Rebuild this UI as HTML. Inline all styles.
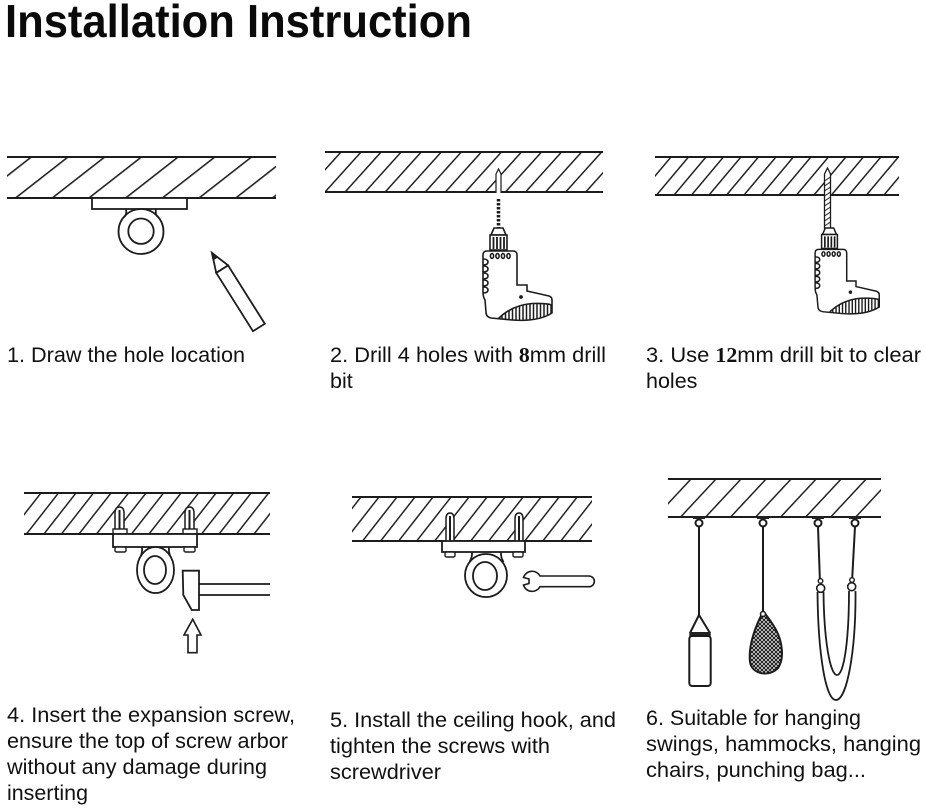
<!DOCTYPE html>
<html><head><meta charset="utf-8"><style>
html,body{margin:0;padding:0;background:#fff;}
svg{display:block;}
</style></head><body>
<svg width="926" height="808" viewBox="0 0 926 808" xmlns="http://www.w3.org/2000/svg">
<defs>
<pattern id="p1" patternUnits="userSpaceOnUse" width="22.6" height="10" patternTransform="translate(30,157) rotate(52)"><rect x="0" y="0" width="1.6" height="10" fill="#222"/></pattern>
<pattern id="p2" patternUnits="userSpaceOnUse" width="14.9" height="10" patternTransform="translate(340,152) rotate(42)"><rect x="0" y="0" width="1.5" height="10" fill="#222"/></pattern>
<pattern id="p3" patternUnits="userSpaceOnUse" width="13.4" height="10" patternTransform="translate(670,157) rotate(40)"><rect x="0" y="0" width="1.5" height="10" fill="#222"/></pattern>
<pattern id="p4" patternUnits="userSpaceOnUse" width="13.8" height="10" patternTransform="translate(40,493) rotate(38)"><rect x="0" y="0" width="1.5" height="10" fill="#222"/></pattern>
<pattern id="p5" patternUnits="userSpaceOnUse" width="14.2" height="10" patternTransform="translate(360,497) rotate(38)"><rect x="0" y="0" width="1.5" height="10" fill="#222"/></pattern>
<pattern id="p6" patternUnits="userSpaceOnUse" width="18.3" height="10" patternTransform="translate(690,479) rotate(43)"><rect x="0" y="0" width="1.5" height="10" fill="#222"/></pattern>
<pattern id="net" patternUnits="userSpaceOnUse" width="4" height="4"><path d="M0,0 L4,4 M4,0 L0,4" stroke="#222" stroke-width="1.2"/></pattern>
<clipPath id="dh"><path d="M498,319 Q512,305 532,303.5 Q546,303 552,305 L552,313 Q538,322 512,320 Z"/></clipPath>
<g id="drill" stroke="#1c1c1c" stroke-width="1.6" fill="#fff">
  <path d="M494,228 L503,228 L506,235 L491,235 Z"/>
  <rect x="490" y="235" width="17" height="15"/>
  <path d="M493.5,237 V249 M497,237 V249 M500.5,237 V249 M504,237 V249" stroke-width="1.8"/>
  <path d="M483,255 Q483,251 487,251 L513,251 Q517,251 517,255 L517,285 L527,285 L527,291 L549,296 Q552,297 552,300 L552,313 Q538,322 512,320 L491,318 Q486,317 486,312 L485,300 Q483,297 483,292 Z"/>
  <path fill="none" d="M483,259 Q488,259 488,262 Q488,265 483,265 M483,266 Q488,266 488,269 Q488,272 483,272 M483,273 Q488,273 488,276 Q488,279 483,279 M483,280 Q488,280 488,283 Q488,286 483,286 M483,287 Q488,287 488,290 Q488,293 483,293"/>
  <ellipse cx="492" cy="256" rx="1.6" ry="2.4"/><ellipse cx="497.5" cy="256" rx="1.6" ry="2.4"/><ellipse cx="503" cy="256" rx="1.6" ry="2.4"/><ellipse cx="508.5" cy="256" rx="1.6" ry="2.4"/>
  <path fill="none" d="M498,319 Q512,305 532,303.5 Q546,303 552,305"/>
  <g clip-path="url(#dh)" stroke-width="1.5"><path d="M502,300 V323 M505.5,300 V323 M509,300 V323 M512.5,300 V323 M516,300 V323 M519.5,300 V323 M523,300 V323 M526.5,300 V323 M530,300 V323 M533.5,300 V323 M537,300 V323 M540.5,300 V323 M544,300 V323 M547.5,300 V323 M551,300 V323"/></g>
  <circle cx="521" cy="297" r="1.1" fill="#1c1c1c"/>
</g>
</defs>
<rect width="926" height="808" fill="#fff"/>

<text x="5" y="37" font-family="'Liberation Sans', Arial, sans-serif" font-weight="bold" font-size="46" fill="#0a0a0a" textLength="467" lengthAdjust="spacingAndGlyphs">Installation Instruction</text>

<g stroke="#1c1c1c" stroke-width="1.8" fill="none">
<!-- Panel 1 -->
<rect x="7" y="157" width="269" height="41" fill="url(#p1)" stroke="none"/>
<path d="M7,157 H276 M7,198 H276" stroke-width="2"/>
<rect x="92" y="198" width="95" height="11" fill="#fff"/>
<circle cx="141" cy="231.5" r="22.5" fill="#fff"/>
<path d="M126,209 Q127,215 124,217 M156,209 Q155,215 158,217"/>
<circle cx="141" cy="231.2" r="12.7" fill="#fff"/>
<g transform="translate(212,253) rotate(57.8)">
  <rect x="19" y="-7" width="69" height="14" fill="#fff"/>
  <polygon points="0,0 19,-7 19,7" fill="#fff"/>
  <polygon points="0,0 6,-2.2 6,2.2" fill="#222"/>
</g>

<!-- Panel 2 -->
<rect x="325" y="152" width="278" height="40" fill="url(#p2)" stroke="none"/>
<path d="M325,152 H603 M325,192 H603" stroke-width="2"/>
<path d="M496,193 L496,174 L498.5,169 L501,174 L501,193" fill="#fff" stroke-width="1.2"/>
<line x1="498.5" y1="199" x2="498.5" y2="229" stroke-width="3.5" stroke-dasharray="2.5 1.5"/>
<use href="#drill"/>

<!-- Panel 3 -->
<rect x="655" y="157" width="244" height="38" fill="url(#p3)" stroke="none"/>
<path d="M655,157 H899 M655,195 H899" stroke-width="2"/>
<path d="M824.5,229 L824.5,174 L827.5,168 L830.5,174 L830.5,229" fill="#fff" stroke-width="1.3"/>
<path d="M824.5,181 L830.5,177 M824.5,186 L830.5,182 M824.5,191 L830.5,187 M824.5,196 L830.5,192 M824.5,201 L830.5,197 M824.5,206 L830.5,202 M824.5,211 L830.5,207 M824.5,216 L830.5,212 M824.5,221 L830.5,217 M824.5,226 L830.5,222" stroke-width="1"/>
<use href="#drill" transform="translate(829.5,228) scale(0.93) translate(-498.5,-228)"/>

<!-- Panel 4 -->
<rect x="24" y="493" width="246" height="41" fill="url(#p4)" stroke="none"/>
<path d="M24,493 H270 M24,534 H270" stroke-width="2"/>
<path d="M115,534 L115,513 Q115,507 119.5,507 Q124,507 124,513 L124,534" fill="#fff" stroke-width="1.5"/>
<path d="M185,534 L185,513 Q185,507 189.5,507 Q194,507 194,513 L194,534" fill="#fff" stroke-width="1.5"/>
<path d="M119.5,510 V534 M189.5,510 V534" stroke-width="2"/>
<rect x="113" y="529" width="14" height="5" fill="#fff" stroke-width="1.4"/>
<rect x="183" y="529" width="14" height="5" fill="#fff" stroke-width="1.4"/>
<rect x="113" y="534" width="84" height="13" fill="#fff"/>
<rect x="115" y="547" width="11" height="5" rx="1.5" fill="#fff" stroke-width="1.4"/>
<rect x="184" y="547" width="11" height="5" rx="1.5" fill="#fff" stroke-width="1.4"/>
<ellipse cx="155.5" cy="570" rx="18.5" ry="23" fill="#fff"/>
<path d="M142,547 Q142.5,552 140.8,556 M169,547 Q168.5,552 170.2,556"/>
<ellipse cx="155" cy="570" rx="11" ry="14" fill="#fff"/>
<path d="M182.7,570.7 L199,570.7 L199,610 L191.7,610 L183.3,595 Z" fill="#fff"/>
<path d="M199,584 H270 M199,595 H270"/>
<path d="M192.7,619.3 L201,635 L197,635 L197,652.7 L188,652.7 L188,635 L184,635 Z" fill="#fff" stroke-width="1.6"/>

<!-- Panel 5 -->
<rect x="352" y="497" width="240" height="44" fill="url(#p5)" stroke="none"/>
<path d="M352,497 H592 M352,541 H592" stroke-width="2"/>
<path d="M446,541 L446,519 Q446,513 450,513 Q454,513 454,519 L454,541" fill="#fff" stroke-width="1.5"/>
<path d="M515,541 L515,519 Q515,513 519,513 Q523,513 523,519 L523,541" fill="#fff" stroke-width="1.5"/>
<path d="M450,516 V541 M519,516 V541" stroke-width="2"/>
<rect x="442" y="541" width="83" height="11" fill="#fff"/>
<rect x="445" y="552" width="10" height="5" rx="1.5" fill="#fff" stroke-width="1.4"/>
<rect x="513" y="552" width="10" height="5" rx="1.5" fill="#fff" stroke-width="1.4"/>
<ellipse cx="486" cy="575.5" rx="21" ry="21.5" fill="#fff"/>
<path d="M472,552 Q472.5,557 469.5,562 M501,552 Q500.5,557 503.5,562"/>
<ellipse cx="485" cy="576" rx="12" ry="14" fill="#fff"/>
<path d="M540,576 L589,576 A5.35,5.35 0 0 1 589,586.7 L540,586.7 A9,9 0 0 1 523.5,585 L529,583.5 L529,579 L523.5,577.5 A9,9 0 0 1 540,576 Z" fill="#fff" stroke-width="1.6"/>

<!-- Panel 6 -->
<rect x="668" y="479" width="213" height="38" fill="url(#p6)" stroke="none"/>
<path d="M668,479 H881 M668,517 H881" stroke-width="2"/>
<g fill="#222" stroke="none">
  <rect x="693" y="516" width="12" height="3"/><rect x="757" y="516" width="12" height="3"/>
  <rect x="812" y="516" width="12" height="3"/><rect x="849" y="516" width="12" height="3"/>
</g>
<circle cx="699" cy="523" r="3.5" fill="#fff" stroke-width="2"/>
<circle cx="763" cy="523" r="3.5" fill="#fff" stroke-width="2"/>
<circle cx="818" cy="523" r="3.5" fill="#fff" stroke-width="2"/>
<circle cx="855" cy="523" r="3.5" fill="#fff" stroke-width="2"/>
<!-- punching bag -->
<path d="M699,526.5 V615 M699,615 L690,633 M699,615 L710,633" stroke-width="2"/>
<rect x="689.3" y="632" width="21.4" height="5" fill="#222" stroke="none"/>
<rect x="689.3" y="636" width="21.4" height="50" rx="3" fill="#fff" stroke-width="2"/>
<!-- net bag -->
<path d="M763,526.5 V612" stroke-width="2"/>
<path d="M763,612 C756,625 748,645 750,662 C752,675 770,677 778,668 C785,658 782,640 775,628 C770,620 766,614 763,612 Z" fill="url(#net)" stroke-width="2"/>
<circle cx="763" cy="614" r="2.5" fill="#fff" stroke-width="1.5"/>
<!-- swing -->
<path d="M818,526.5 L820,583 M855,526.5 L852,582" stroke-width="2"/>
<circle cx="820.5" cy="581" r="2.3" fill="#fff" stroke-width="1.4"/>
<circle cx="852" cy="580" r="2.3" fill="#fff" stroke-width="1.4"/>
<path d="M817.5,592 C818,650 825,700 836,700 C847,700 856,650 855.5,591" stroke-width="1.8"/>
<path d="M823.5,592 C824,640 830,675 837,675 C844,675 849,640 849,591" stroke-width="1.8"/>
<circle cx="820.7" cy="588.3" r="4" fill="#fff" stroke-width="1.6"/>
<circle cx="851.7" cy="586.7" r="4" fill="#fff" stroke-width="1.6"/>
</g>

<g font-family="'Liberation Sans', Arial, sans-serif" font-size="21.5" fill="#111">
<text x="7" y="362" textLength="238" lengthAdjust="spacingAndGlyphs">1. Draw the hole location</text>
<text x="330" y="362" textLength="276" lengthAdjust="spacingAndGlyphs">2. Drill 4 holes with <tspan font-family="'Liberation Serif', serif" font-weight="bold">8</tspan>mm drill</text>
<text x="330" y="388">bit</text>
<text x="646" y="362" textLength="275" lengthAdjust="spacingAndGlyphs">3. Use <tspan font-family="'Liberation Serif', serif" font-weight="bold">12</tspan>mm drill bit to clear</text>
<text x="646" y="388">holes</text>

<text x="7" y="722" textLength="288" lengthAdjust="spacingAndGlyphs">4. Insert the expansion screw,</text>
<text x="7" y="748" textLength="281" lengthAdjust="spacingAndGlyphs">ensure the top of screw arbor</text>
<text x="7" y="774" textLength="260" lengthAdjust="spacingAndGlyphs">without any damage during</text>
<text x="7" y="800" textLength="81" lengthAdjust="spacingAndGlyphs">inserting</text>

<text x="330" y="727" textLength="286" lengthAdjust="spacingAndGlyphs">5. Install the ceiling hook, and</text>
<text x="330" y="753" textLength="220" lengthAdjust="spacingAndGlyphs">tighten the screws with</text>
<text x="330" y="779" textLength="111" lengthAdjust="spacingAndGlyphs">screwdriver</text>

<text x="646" y="725" textLength="215" lengthAdjust="spacingAndGlyphs">6. Suitable for hanging</text>
<text x="646" y="751" textLength="275" lengthAdjust="spacingAndGlyphs">swings, hammocks, hanging</text>
<text x="646" y="777" textLength="220" lengthAdjust="spacingAndGlyphs">chairs, punching bag...</text>
</g>
</svg>
</body></html>
